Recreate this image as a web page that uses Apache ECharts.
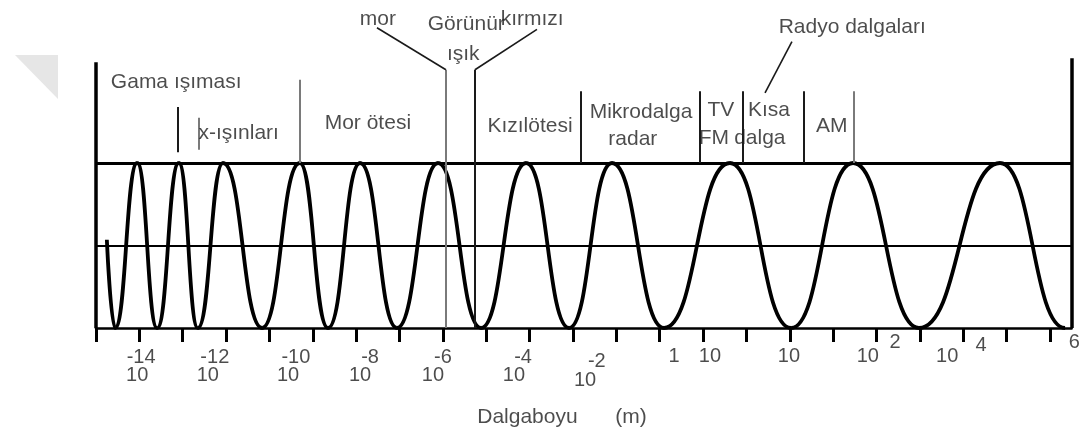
<!DOCTYPE html>
<html>
<head>
<meta charset="utf-8">
<script src="https://cdn.jsdelivr.net/npm/echarts@6/dist/echarts.min.js"></script>
<style>
  html, body { margin: 0; padding: 0; background: #fff; }
  #chart { width: 1081px; height: 434px; }
</style>
</head>
<body>
<div id="chart"></div>
<script>
// x is counted in tick steps along the wavelength axis (0 = left frame)
// y: 0 = bottom line, 1 = middle line, 2 = top line
const tickSteps = [0, 1, 2, 3, 4, 5, 6, 7, 8, 9, 10, 11, 12, 13, 14, 15, 16, 17, 18, 19, 20, 21, 22]

// turning points of the wave, left to right (the first one is where the drawing starts)
const waveX = [0.25, 0.44, 0.95, 1.41, 1.91, 2.35, 2.93, 3.83, 4.70, 5.35, 6.09, 6.94,
  7.89, 8.88, 9.92, 10.91, 11.90, 13.10, 14.62, 16.03, 17.46, 18.98, 20.85, 22.35]
const waveY = [1.07, 0, 2, 0, 2, 0, 2, 0, 2, 0, 2, 0, 2, 0, 2, 0, 2, 0, 2, 0, 2, 0, 2, 0]

// band names above the wave
const bandNames = ['Gama ışıması', 'x-ışınları', 'Mor ötesi', 'mor', 'Görünür', 'ışık', 'kırmızı',
  'Kızılötesi', 'Mikrodalga', 'radar', 'TV', 'FM', 'Kısa', 'dalga', 'AM', 'Radyo dalgaları']
const bandX = [1.85, 3.29, 6.27, 6.50, 8.54, 8.47, 10.06, 10.01, 12.57, 12.38, 14.41, 14.25, 15.52, 15.31, 16.97, 17.44]
const bandY = [2.98, 2.36, 2.48, 3.74, 3.68, 3.32, 3.74, 2.44, 2.62, 2.29, 2.64, 2.30, 2.64, 2.30, 2.45, 3.65]

// band borders: [x, top, bottom]
const frameLines = [[0, 3.22, 0], [22.5, 3.27, 0]]
const darkDividers = [[1.89, 2.68, 2.13], [8.74, 3.13, 0], [11.19, 2.87, 2], [13.93, 2.87, 2], [14.92, 2.87, 2], [16.33, 2.87, 2]]
const greyDividers = [[2.375, 2.55, 2.16], [4.705, 3.01, 2], [8.07, 3.13, 0], [17.48, 2.87, 2]]
// slanted pointers: [x1, y1, x2, y2]
const pointerLines = [[6.48, 3.64, 8.07, 3.13], [8.74, 3.13, 10.17, 3.62], [16.05, 3.47, 15.43, 2.85]]

// wavelength labels under the axis
const tickText = ['-14', '-12', '-10', '-8', '-6', '-4', '-2',
  '10', '10', '10', '10', '10', '10', '10',
  '1', '10', '10', '10', '10', '2', '4', '6']
const tickTextX = [1.04, 2.74, 4.61, 6.32, 8.00, 9.85, 11.55,
  0.95, 2.58, 4.43, 6.09, 7.77, 9.64, 11.28,
  13.33, 14.16, 15.98, 17.80, 19.63, 18.43, 20.41, 22.56]
const tickTextY = [-0.36, -0.36, -0.36, -0.36, -0.36, -0.36, -0.41,
  -0.58, -0.58, -0.58, -0.58, -0.58, -0.58, -0.64,
  -0.35, -0.35, -0.35, -0.35, -0.35, -0.17, -0.21, -0.18]

const axisTitle = ['Dalgaboyu', '(m)']
const axisTitleX = [9.95, 12.34]
const axisTitleY = [-1.085, -1.085]

const FONT = '"Liberation Sans", Arial, Helvetica, sans-serif'
const K = 0.5 // bezier handle: rounded tops, upright flanks at the middle line

const chart = echarts.init(document.getElementById('chart'))

const waveSegments = []
for (let i = 0; i < waveX.length - 1; i++) {
  waveSegments.push([waveX[i], waveY[i], waveX[i + 1], waveY[i + 1]])
}

const textPoints = (names, xs, ys) => names.map((n, i) => ({ name: n, value: [xs[i], ys[i]] }))

const solid = (color, width) => ({ color, width, type: 'solid' })
const vLine = (l, color, width) => [
  { coord: [l[0], l[1]], lineStyle: solid(color, width) },
  { coord: [l[0], l[2]], lineStyle: solid(color, width) }
]

const markData = [
  { yAxis: 2, lineStyle: solid('#000', 3) },
  { yAxis: 1, lineStyle: solid('#000', 2) }
]
frameLines.forEach(l => markData.push(vLine(l, '#000', 3.5)))
darkDividers.forEach(l => markData.push(vLine(l, '#1a1a1a', 2)))
greyDividers.forEach(l => markData.push(vLine(l, '#7a7a7a', 2)))
pointerLines.forEach(l => markData.push([
  { coord: [l[0], l[1]], lineStyle: solid('#1a1a1a', 1.6) },
  { coord: [l[2], l[3]], lineStyle: solid('#1a1a1a', 1.6) }
]))

const textSeries = (data, size) => ({
  type: 'scatter',
  data,
  symbol: 'circle',
  symbolSize: 1,
  itemStyle: { color: 'rgba(0,0,0,0)' },
  clip: false,
  silent: true,
  z: 5,
  label: {
    show: true,
    position: 'inside',
    formatter: '{b}',
    color: '#1f1f1f',
    fontSize: size,
    fontFamily: FONT
  }
})

const option = {
  animation: false,
  backgroundColor: '#fff',
  grid: { left: 96, right: 9.4, top: 6.25, bottom: 2.875, containLabel: false, outerBoundsMode: 'none' },
  xAxis: {
    type: 'value',
    min: 0,
    max: 22.5,
    interval: 1,
    axisLine: { onZero: true, lineStyle: { color: '#000', width: 2.5 } },
    axisTick: { show: true, length: 14, customValues: tickSteps, lineStyle: { color: '#000', width: 3 } },
    axisLabel: { show: false },
    splitLine: { show: false }
  },
  yAxis: { type: 'value', min: -1.25, max: 3.9, show: false },
  graphic: [{
    type: 'polygon',
    shape: { points: [[15, 55], [58, 55], [58, 99]] },
    style: { fill: '#e6e6e6' },
    silent: true
  }],
  series: [
    {
      type: 'line',
      data: [],
      clip: false,
      silent: true,
      markLine: {
        silent: true,
        symbol: 'none',
        label: { show: false },
        lineStyle: { type: 'solid' },
        emphasis: { disabled: true },
        data: markData
      }
    },
    {
      type: 'custom',
      data: waveSegments,
      encode: { x: [0, 2], y: [1, 3] },
      silent: true,
      z: 3,
      renderItem: (params, api) => {
        const a = api.coord([api.value(0), api.value(1)])
        const b = api.coord([api.value(2), api.value(3)])
        const dx = b[0] - a[0]
        const k0 = params.dataIndex === 0 ? 0 : K
        return {
          type: 'bezierCurve',
          shape: {
            x1: a[0], y1: a[1], x2: b[0], y2: b[1],
            cpx1: a[0] + k0 * dx, cpy1: a[1],
            cpx2: b[0] - K * dx, cpy2: b[1]
          },
          style: { stroke: '#000', lineWidth: 3.8, fill: 'none' }
        }
      }
    },
    textSeries(textPoints(bandNames, bandX, bandY), 21),
    textSeries(textPoints(tickText, tickTextX, tickTextY), 20),
    textSeries(textPoints(axisTitle, axisTitleX, axisTitleY), 21)
  ]
}

chart.setOption(option)
</script>
</body>
</html>
